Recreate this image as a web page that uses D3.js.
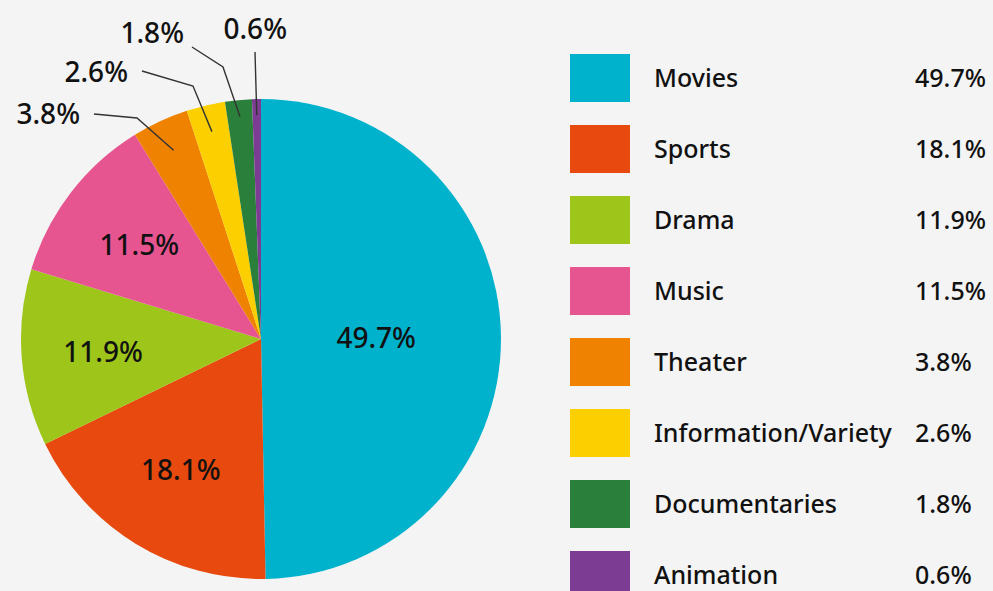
<!DOCTYPE html>
<html>
<head>
<meta charset="utf-8">
<script src="https://cdn.jsdelivr.net/npm/d3@7"></script>
<style>
  html, body { margin: 0; padding: 0; background: #f4f4f4; }
  svg { display: block; font-family: "Noto Sans", "Open Sans", sans-serif; }
</style>
</head>
<body>
<svg id="chart" width="993" height="591"></svg>
<script>
// Share of viewing by genre (%)
const categories = ["Movies", "Sports", "Drama", "Music", "Theater", "Information/Variety", "Documentaries", "Animation"];
const shares = [49.7, 18.1, 11.9, 11.5, 3.8, 2.6, 1.8, 0.6];
const colors = ["#00b2cc", "#e8490e", "#9dc51a", "#e75591", "#ef8200", "#fbcf00", "#2a7f3a", "#7d3c93"];

// Where each slice label sits: inside at a fraction of the radius, or as a callout
const insideLabelRadius = [0.48, 0.64, 0.66, 0.64];
const callouts = [
  { index: 4, tip: 0.867, elbow: [137, 118], start: [94, 114], text: [80, 124] },
  { index: 5, tip: 0.888, elbow: [193, 86], start: [142, 71], text: [128, 82] },
  { index: 6, tip: 0.93, elbow: [223, 67], start: [192, 47], text: [184, 43] },
  { index: 7, tip: 0.933, elbow: null, start: [255, 52], text: [287, 39] }
];

const fmt = v => v.toFixed(1) + "%";
const svg = d3.select("#chart");

const cx = 261, cy = 339, R = 240;
const color = d3.scaleOrdinal().domain(categories).range(colors);

const pie = d3.pie().sort(null).value(d => d.value).startAngle(0).endAngle(2 * Math.PI);
const data = categories.map((c, i) => ({ name: c, value: shares[i] }));
const arcs = pie(data);
const arc = d3.arc().innerRadius(0).outerRadius(R);

const g = svg.append("g").attr("transform", `translate(${cx},${cy})`);
g.selectAll("path.slice")
  .data(arcs)
  .join("path")
  .attr("class", "slice")
  .attr("d", arc)
  .attr("fill", d => color(d.data.name));

// Labels inside the larger slices
g.selectAll("text.inside")
  .data(arcs.slice(0, insideLabelRadius.length))
  .join("text")
  .attr("class", "inside")
  .attr("transform", (d, i) => {
    const r = R * insideLabelRadius[i];
    const c = d3.arc().innerRadius(r).outerRadius(r).centroid(d);
    return `translate(${c[0]},${c[1]})`;
  })
  .attr("text-anchor", "middle")
  .attr("dy", "0.36em")
  .attr("font-size", 28)
  .attr("font-weight", 500)
  .attr("fill", "#111")
  .text(d => fmt(d.data.value));

// Callouts for the thin slices
const co = svg.append("g");
callouts.forEach(c => {
  const a = arcs[c.index];
  const r = R * c.tip;
  const tip = d3.arc().innerRadius(r).outerRadius(r).centroid(a);
  const pts = [c.start];
  if (c.elbow) pts.push(c.elbow);
  pts.push([tip[0] + cx, tip[1] + cy]);
  co.append("path")
    .attr("d", d3.line()(pts))
    .attr("fill", "none")
    .attr("stroke", "#333")
    .attr("stroke-width", 1.4);
  co.append("text")
    .attr("x", c.text[0])
    .attr("y", c.text[1])
    .attr("text-anchor", "end")
    .attr("font-size", 28)
    .attr("font-weight", 500)
    .attr("fill", "#111")
    .text(fmt(a.data.value));
});

// Legend
const y = d3.scaleBand().domain(categories).range([54, 599]).paddingInner(23 / 71).paddingOuter(0);
const legend = svg.append("g");
const row = legend.selectAll("g")
  .data(data)
  .join("g")
  .attr("transform", d => `translate(0,${y(d.name)})`);
row.append("rect")
  .attr("x", 570)
  .attr("width", 60)
  .attr("height", y.bandwidth())
  .attr("fill", d => color(d.name));
row.append("text")
  .attr("x", 654)
  .attr("y", y.bandwidth() / 2)
  .attr("dy", "0.36em")
  .attr("font-size", 25)
  .attr("font-weight", 500)
  .attr("fill", "#111")
  .text(d => d.name);
row.append("text")
  .attr("x", 915)
  .attr("y", y.bandwidth() / 2)
  .attr("dy", "0.36em")
  .attr("font-size", 25)
  .attr("font-weight", 500)
  .attr("fill", "#111")
  .text(d => fmt(d.value));
</script>
</body>
</html>
